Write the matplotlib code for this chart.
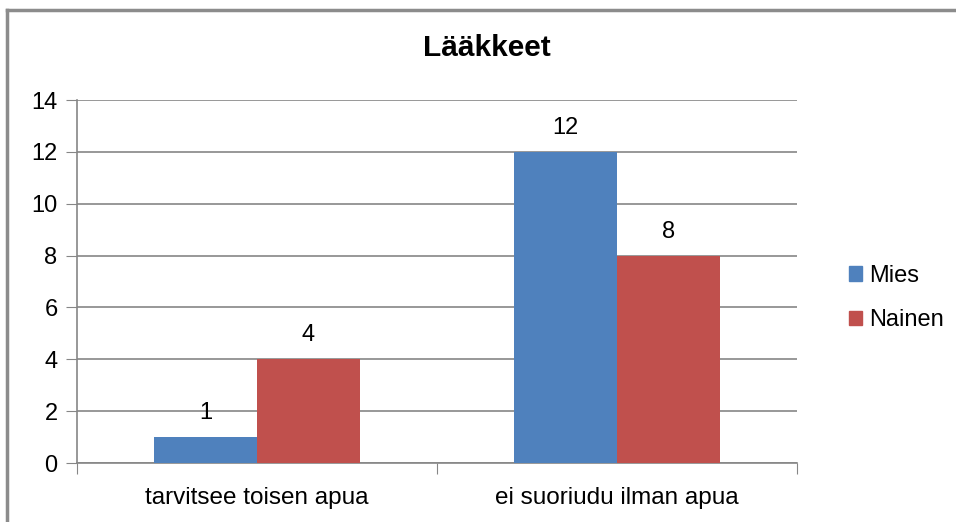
import matplotlib
matplotlib.use("Agg")
import matplotlib.pyplot as plt
import numpy as np
from matplotlib.lines import Line2D
from matplotlib.patches import Patch

plt.rcParams['font.family'] = ['Liberation Sans', 'DejaVu Sans']

categories = ["tarvitsee toisen apua", "ei suoriudu ilman apua"]
mies = [1, 12]
nainen = [4, 8]
series_names = ["Mies", "Nainen"]
colors = ["#4F81BD", "#C0504D"]
title = "Lääkkeet"

fig = plt.figure(figsize=(9.56, 5.22), dpi=100)
ax = fig.add_axes([77 / 956, 59 / 522, 720 / 956, 363 / 522])

x = np.arange(len(categories))
w = 0.285
ax.bar(x - w / 2, mies, w, color=colors[0], zorder=3)
ax.bar(x + w / 2, nainen, w, color=colors[1], zorder=3)

for xi, v in zip(x - w / 2, mies):
    ax.text(xi, v + 0.5, str(v), ha="center", va="bottom", fontsize=17)
for xi, v in zip(x + w / 2, nainen):
    ax.text(xi, v + 0.5, str(v), ha="center", va="bottom", fontsize=17)

ax.set_xlim(-0.5, 1.5)
ax.set_ylim(0, 14)
ax.set_yticks(range(0, 15, 2))
ax.tick_params(axis="y", labelsize=17, length=8, color="#868686", pad=6)
ax.yaxis.grid(True, color="#868686", linewidth=1.2, zorder=0)

# category ticks at boundaries, labels centered
ax.set_xticks([-0.5, 0.5, 1.5])
ax.set_xticklabels([])
ax.set_xticks(x, minor=True)
ax.set_xticklabels(categories, minor=True, fontsize=17.5)
ax.tick_params(axis="x", which="major", length=8, color="#868686")
ax.tick_params(axis="x", which="minor", length=0, pad=17)

for s in ["top", "right"]:
    ax.spines[s].set_visible(False)
ax.spines["left"].set_color("#868686")
ax.spines["bottom"].set_color("#868686")
ax.spines["left"].set_linewidth(1.2)
ax.spines["bottom"].set_linewidth(1.2)

fig.text(487 / 956, 1 - 48 / 522, title, ha="center", va="center",
         fontsize=21.5, fontweight="bold")

handles = [Patch(color=c) for c in colors]
fig.legend(handles, series_names, loc="center left",
           bbox_to_anchor=(828 / 956, 1 - 298 / 522), frameon=False,
           fontsize=17, handlelength=0.55, handleheight=0.55,
           handletextpad=0.3, labelspacing=0.95)

# chart border (top and left edges visible)
fig.add_artist(Line2D([7 / 956, 7 / 956], [0, 1 - 10 / 522],
                      transform=fig.transFigure, color="#8c8c8c", linewidth=2.5))
fig.add_artist(Line2D([7 / 956, 1], [1 - 10 / 522, 1 - 10 / 522],
                      transform=fig.transFigure, color="#8c8c8c", linewidth=2.5))

fig.savefig("out.png", dpi=100)
